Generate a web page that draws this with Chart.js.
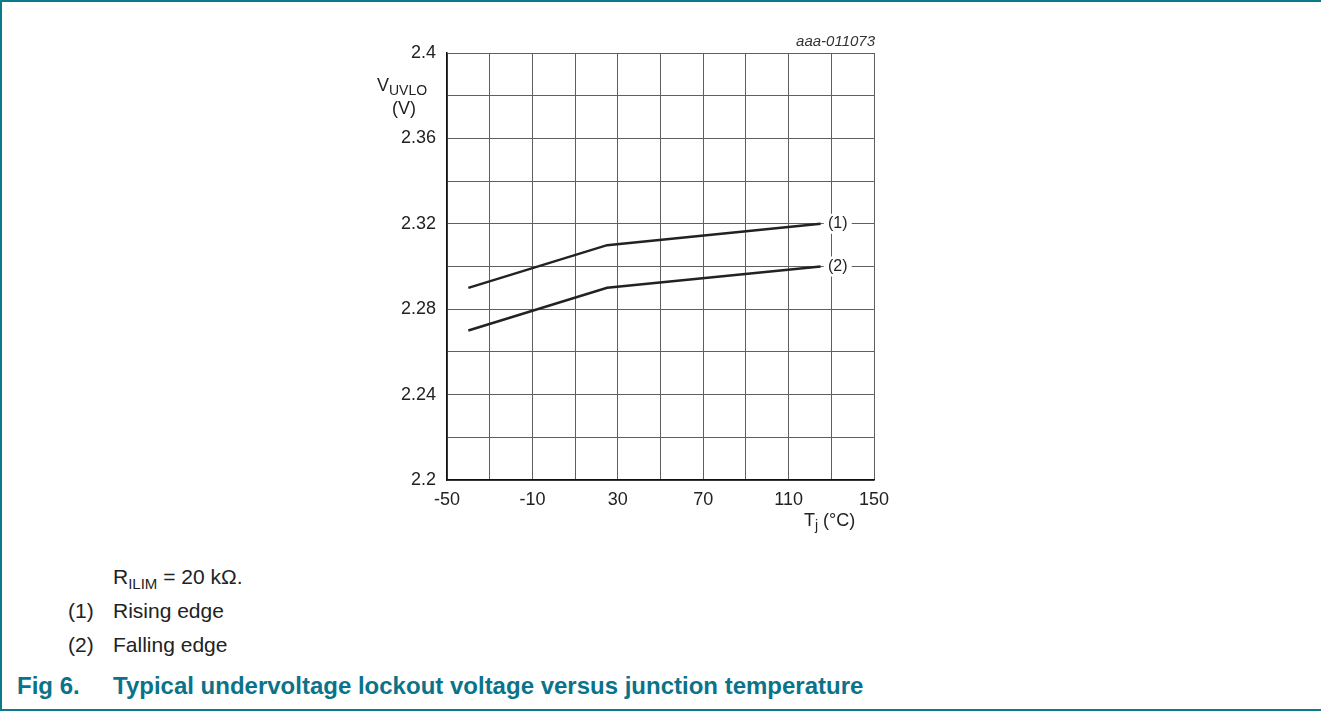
<!DOCTYPE html>
<html>
<head>
<meta charset="utf-8">
<script src="https://cdn.jsdelivr.net/npm/chart.js@4"></script>
<style>
  html, body { margin: 0; padding: 0; background: #fff; overflow: hidden; }
  body { width: 1321px; height: 711px; position: relative; font-family: "Liberation Sans", Arial, sans-serif; color: #222; }
  .frame { position: absolute; left: 0; top: 0; width: 1321px; height: 711px; box-sizing: border-box;
           border-top: 2px solid #0b7a8b; border-left: 2px solid #0b7a8b; border-bottom: 2px solid #0b7a8b; }
  .chart-box { position: absolute; left: 340px; top: 0; width: 560px; height: 560px; }
  .note { position: absolute; font-size: 21px; white-space: nowrap; }
  .note sub { font-size: 15px; vertical-align: -5px; line-height: 0; }
  .fig { position: absolute; left: 17px; top: 672px; font-size: 24px; font-weight: bold; color: #0b7389; white-space: nowrap; }
</style>
</head>
<body>
<div class="frame"></div>
<div class="chart-box"><canvas id="uvloChart" width="560" height="560"></canvas></div>

<div class="note" style="left:113px; top:565px;">R<sub>ILIM</sub> = 20 kΩ.</div>
<div class="note" style="left:68px; top:599px;">(1)</div>
<div class="note" style="left:113px; top:599px;">Rising edge</div>
<div class="note" style="left:68px; top:633px;">(2)</div>
<div class="note" style="left:113px; top:633px;">Falling edge</div>
<div class="fig">Fig 6.<span style="position:absolute; left:96px;">Typical undervoltage lockout voltage versus junction temperature</span></div>

<script>
/******************************************* chart data **/
// junction temperature (°C)
const temps = [-40, 25, 125];
// (1) rising edge, (2) falling edge  (V)
const risingEdge = [2.29, 2.31, 2.32];
const fallingEdge = [2.27, 2.29, 2.30];
const curveLabels = ["(1)", "(2)"];

// axes
const xGrid = [-50, -30, -10, 10, 30, 50, 70, 90, 110, 130, 150];
const xTickLabels = ["-50", "-10", "30", "70", "110", "150"];
const yGrid = [2.2, 2.22, 2.24, 2.26, 2.28, 2.3, 2.32, 2.34, 2.36, 2.38, 2.4];
const yTickLabels = ["2.2", "2.24", "2.28", "2.32", "2.36", "2.4"];
const curveLabelTemp = 133;

const fontFamily = '"Liberation Sans", Arial, sans-serif';
const ink = "#222";

/******************************************* plugins **/
// curve tags (1) / (2) with white box cutting the grid
const curveTags = {
  id: "curveTags",
  afterDatasetsDraw(chart) {
    const ctx = chart.ctx;
    const xs = chart.scales.x;
    const ys = chart.scales.y;
    ctx.save();
    ctx.font = "16px " + fontFamily;
    ctx.textAlign = "center";
    ctx.textBaseline = "middle";
    chart.data.datasets.forEach((ds, i) => {
      const last = ds.data[ds.data.length - 1];
      const cx = xs.getPixelForValue(curveLabelTemp);
      const cy = ys.getPixelForValue(last.y);
      ctx.fillStyle = "#fff";
      ctx.fillRect(cx - 14, cy - 10, 28, 20);
      ctx.fillStyle = ink;
      ctx.fillText(curveLabels[i], cx, cy);
    });
    ctx.restore();
  },
};

// axis titles and figure id
const axisTitles = {
  id: "axisTitles",
  afterDraw(chart) {
    const ctx = chart.ctx;
    const area = chart.chartArea;
    ctx.save();
    ctx.fillStyle = ink;
    ctx.textBaseline = "alphabetic";

    // y title: V_UVLO (V)
    const yl = area.left - 70;
    ctx.textAlign = "left";
    ctx.font = "18px " + fontFamily;
    ctx.fillText("V", yl, 91);
    const vw = ctx.measureText("V").width;
    ctx.font = "14px " + fontFamily;
    ctx.fillText("UVLO", yl + vw, 95);
    ctx.font = "18px " + fontFamily;
    ctx.textAlign = "center";
    ctx.fillText("(V)", yl + 27, 114);

    // x title: T_j (°C)
    ctx.textAlign = "left";
    const xl = area.right - 70;
    ctx.font = "18px " + fontFamily;
    ctx.fillText("T", xl, 526);
    const tw = ctx.measureText("T").width;
    ctx.font = "14px " + fontFamily;
    ctx.fillText("j", xl + tw, 530);
    ctx.font = "18px " + fontFamily;
    ctx.fillText("(°C)", xl + tw + 8, 526);

    // figure id
    ctx.textAlign = "right";
    ctx.font = "italic 15px " + fontFamily;
    ctx.fillStyle = "#333";
    ctx.fillText("aaa-011073", area.right + 1, 46);
    ctx.restore();
  },
};

/******************************************* chart **/
const ctx = document.getElementById("uvloChart");

const toPoints = (vals) => temps.map((t, i) => ({ x: t, y: vals[i] }));

const lineStyle = {
  borderColor: ink,
  borderWidth: 2.5,
  pointRadius: 0,
  fill: false,
  tension: 0,
};

new Chart(ctx, {
  type: "line",
  data: {
    datasets: [
      { label: "Rising edge", data: toPoints(risingEdge), ...lineStyle },
      { label: "Falling edge", data: toPoints(fallingEdge), ...lineStyle },
    ],
  },
  options: {
    responsive: false,
    animation: false,
    devicePixelRatio: 1,
    layout: { padding: { left: 47, right: 26, top: 53, bottom: 40 } },
    plugins: {
      legend: { display: false },
      tooltip: { enabled: false },
    },
    scales: {
      x: {
        type: "linear",
        min: -50,
        max: 150,
        afterBuildTicks: (scale) => {
          scale.ticks = xGrid.map((v) => ({ value: v }));
        },
        afterFit: (scale) => {
          scale.height = 40;
        },
        ticks: {
          autoSkip: false,
          maxRotation: 0,
          padding: 9,
          color: ink,
          font: { family: fontFamily, size: 18 },
          callback: (v, i) => (i % 2 === 0 ? xTickLabels[i / 2] : ""),
        },
        grid: { color: "#5f5f5f", lineWidth: 1, drawTicks: false },
        border: { color: "#111", width: 1.5 },
      },
      y: {
        type: "linear",
        min: 2.2,
        max: 2.4,
        afterBuildTicks: (scale) => {
          scale.ticks = yGrid.map((v) => ({ value: v }));
        },
        afterFit: (scale) => {
          scale.width = 60;
        },
        ticks: {
          autoSkip: false,
          padding: 11,
          color: ink,
          font: { family: fontFamily, size: 18 },
          callback: (v, i) => (i % 2 === 0 ? yTickLabels[i / 2] : ""),
        },
        grid: { color: "#5f5f5f", lineWidth: 1, drawTicks: false },
        border: { color: "#111", width: 1.5 },
      },
    },
  },
  plugins: [curveTags, axisTitles],
});
</script>
</body>
</html>
